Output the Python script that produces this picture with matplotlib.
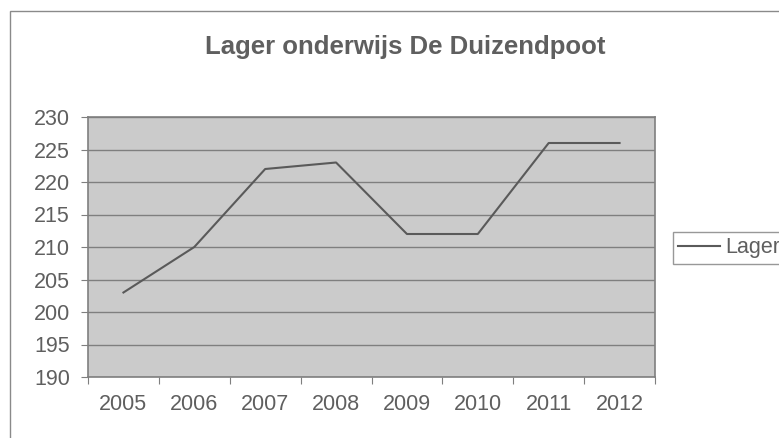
import matplotlib.pyplot as plt
from matplotlib.patches import Rectangle

years = ['2005', '2006', '2007', '2008', '2009', '2010', '2011', '2012']
lager = [203, 210, 222, 223, 212, 212, 226, 226]

plt.rcParams['font.family'] = ['Liberation Sans', 'DejaVu Sans']
txt = '#5f5f5f'

fig = plt.figure(figsize=(7.79, 4.38), dpi=100)
fig.patch.set_facecolor('white')

# outer chart border (cut off right and bottom)
fig.patches.append(Rectangle((10/779, -0.1), 1.2, 1 - 11/438 + 0.1, transform=fig.transFigure,
                             fill=False, edgecolor='#8a8a8a', lw=1.0))

ax = fig.add_axes([88/779, 1 - 377/438, 567/779, 260/438])
ax.set_facecolor('#cbcbcb')

x = list(range(len(years)))
ax.plot(x, lager, color='#5a5a5a', lw=1.5, label='Lager', zorder=3)

ax.set_xlim(-0.5, len(years) - 0.5)
ax.set_ylim(190, 230)
ax.set_yticks(range(190, 231, 5))
ax.yaxis.grid(True, color='#7f7f7f', lw=1.0)
ax.set_axisbelow(True)

ax.set_xticks([i - 0.5 for i in range(len(years) + 1)])
ax.set_xticklabels([])
ax.set_xticks(x, minor=True)
ax.set_xticklabels(years, minor=True)
ax.tick_params(axis='x', which='minor', length=0, pad=12, labelsize=15.5, labelcolor=txt)
ax.tick_params(axis='x', which='major', length=5, color='#7f7f7f')
ax.tick_params(axis='y', length=5, color='#7f7f7f', labelsize=15.5, labelcolor=txt, pad=8)

for s in ax.spines.values():
    s.set_color('#7f7f7f')
    s.set_linewidth(1.2)

fig.text(405/779, 1 - 47/438, 'Lager onderwijs De Duizendpoot', ha='center', va='center',
         fontsize=18.5, fontweight='bold', color=txt)

leg = fig.legend(loc='center left', bbox_to_anchor=(673/779, 1 - 248/438), fontsize=15.5,
                 frameon=True, fancybox=False, handlelength=1.95, handletextpad=0.25,
                 borderpad=0.25, borderaxespad=0, labelcolor=txt)
leg.get_frame().set_edgecolor('#7f7f7f')
leg.get_frame().set_linewidth(1.0)

fig.savefig('out.png', dpi=100)
